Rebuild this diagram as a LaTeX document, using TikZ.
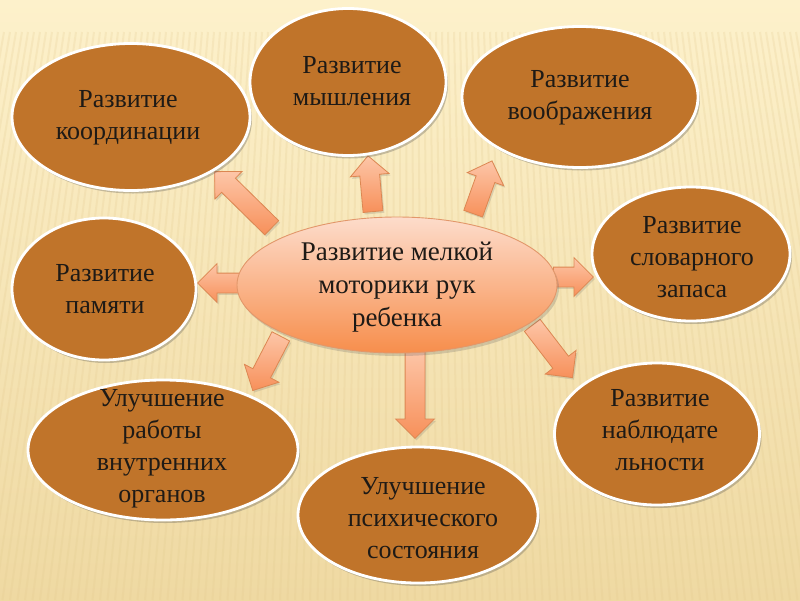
\documentclass[tikz,border=0pt]{standalone}
\usepackage{fontspec}
\setmainfont{Liberation Serif}
\usetikzlibrary{shapes.geometric,shapes.arrows,shadows}

\definecolor{bgTop}{HTML}{FDF1CB}
\definecolor{bgBot}{HTML}{EFD9A2}
\definecolor{stripeCol}{HTML}{E2C98E}
\definecolor{brownFill}{HTML}{C0742A}
\definecolor{coreTop}{HTML}{FDDCCB}
\definecolor{coreBot}{HTML}{F78E4C}
\definecolor{coreLine}{HTML}{E2976A}
\definecolor{arrLight}{HTML}{FDC6A8}
\definecolor{arrDark}{HTML}{F7905A}
\definecolor{arrLine}{HTML}{DC8752}
\definecolor{textCol}{HTML}{1E1A16}

\tikzset{
  stripe/.style={stripeCol, line width=2pt, opacity=0.22},
  goal/.style={ellipse, draw=white, line width=2.8pt, fill=brownFill, inner sep=0pt,
    drop shadow={shadow xshift=2pt, shadow yshift=-3pt, opacity=0.3, fill=black!70}},
  goaltext/.style={align=center, text=textCol, inner sep=0pt, font=\fontsize{26}{32}\selectfont},
  core/.style={ellipse, draw=coreLine, line width=0.9pt, top color=coreTop, bottom color=coreBot,
    inner sep=0pt, drop shadow={shadow xshift=2pt, shadow yshift=-3pt, opacity=0.25, fill=black!60}},
  coretext/.style={align=center, text=textCol, inner sep=0pt, font=\fontsize{27}{33}\selectfont},
  blockarr/.style={single arrow, anchor=tail, draw=arrLine, line width=0.8pt,
    top color=arrLight, bottom color=arrDark, inner sep=0pt,
    text height=9.5pt, text depth=9.5pt, text width=0pt, minimum width=38pt,
    single arrow head extend=9.5pt, single arrow tip angle=90, single arrow head indent=0pt,
    drop shadow={shadow xshift=1.5pt, shadow yshift=-2pt, opacity=0.2, fill=black!60}}
}

\begin{document}
\begin{tikzpicture}[x=1pt, y=-1pt]
  \useasboundingbox (0,0) rectangle (800,600);
  \shade[top color=bgTop, bottom color=bgBot] (0,0) rectangle (800,600);
  \begin{scope}
    \clip (0,0) rectangle (800,600);
    \foreach \i in {-70,...,70}
      \draw[stripe] ({400+\i*6},32) -- ({400+\i*7.5},600);
  \end{scope}

  % arrows from the middle
  \node[blockarr, minimum height=80pt, rotate=135.5] (aKoord) at (272,228) {};
  \node[blockarr, minimum height=56pt, rotate=95.1] (aMysl) at (373,212) {};
  \node[blockarr, minimum height=56pt, rotate=70.3] (aVoobr) at (473,214) {};
  \node[blockarr, minimum height=40pt, rotate=0] (aSlov) at (553,277) {};
  \node[blockarr, minimum height=66pt, rotate=-52.4] (aNabl) at (532,325) {};
  \node[blockarr, minimum height=89pt, rotate=-90] (aPsih) at (415,349) {};
  \node[blockarr, minimum height=61pt, rotate=-117.4] (aOrg) at (281,336) {};
  \node[blockarr, minimum height=42pt, rotate=180] (aPam) at (240,283) {};

  \node[core, minimum width=320pt, minimum height=136pt] (motor) at (397,285) {};
  \node[coretext] (tMotor) at (397,287) {Развитие мелкой\\моторики рук\\ребенка};

  \node[goal, minimum width=238pt, minimum height=147pt] (koord) at (131,117) {};
  \node[goaltext] (tKoord) at (128,118) {Развитие\\координации};

  \node[goal, minimum width=196pt, minimum height=147pt] (mysl) at (348,82) {};
  \node[goaltext] (tMysl) at (352,81) {Развитие\\мышления};

  \node[goal, minimum width=236pt, minimum height=141pt] (voobr) at (580,97) {};
  \node[goaltext] (tVoobr) at (580,98) {Развитие\\воображения};

  \node[goal, minimum width=198pt, minimum height=134pt] (slov) at (691,254) {};
  \node[goaltext] (tSlov) at (692,257) {Развитие\\словарного\\запаса};

  \node[goal, minimum width=205pt, minimum height=142pt] (nabl) at (657,434) {};
  \node[goaltext] (tNabl) at (660,430) {Развитие\\наблюдате\\льности};

  \node[goal, minimum width=240pt, minimum height=136pt] (psih) at (418,515) {};
  \node[goaltext] (tPsih) at (423,518) {Улучшение\\психического\\состояния};

  \node[goal, minimum width=270pt, minimum height=140pt] (org) at (163,450) {};
  \node[goaltext] (tOrg) at (162,449) {Улучшение\\работы\\внутренних\\органов};

  \node[goal, minimum width=184pt, minimum height=142pt] (pam) at (104,289) {};
  \node[goaltext] (tPam) at (105,289) {Развитие\\памяти};
\end{tikzpicture}
\end{document}
